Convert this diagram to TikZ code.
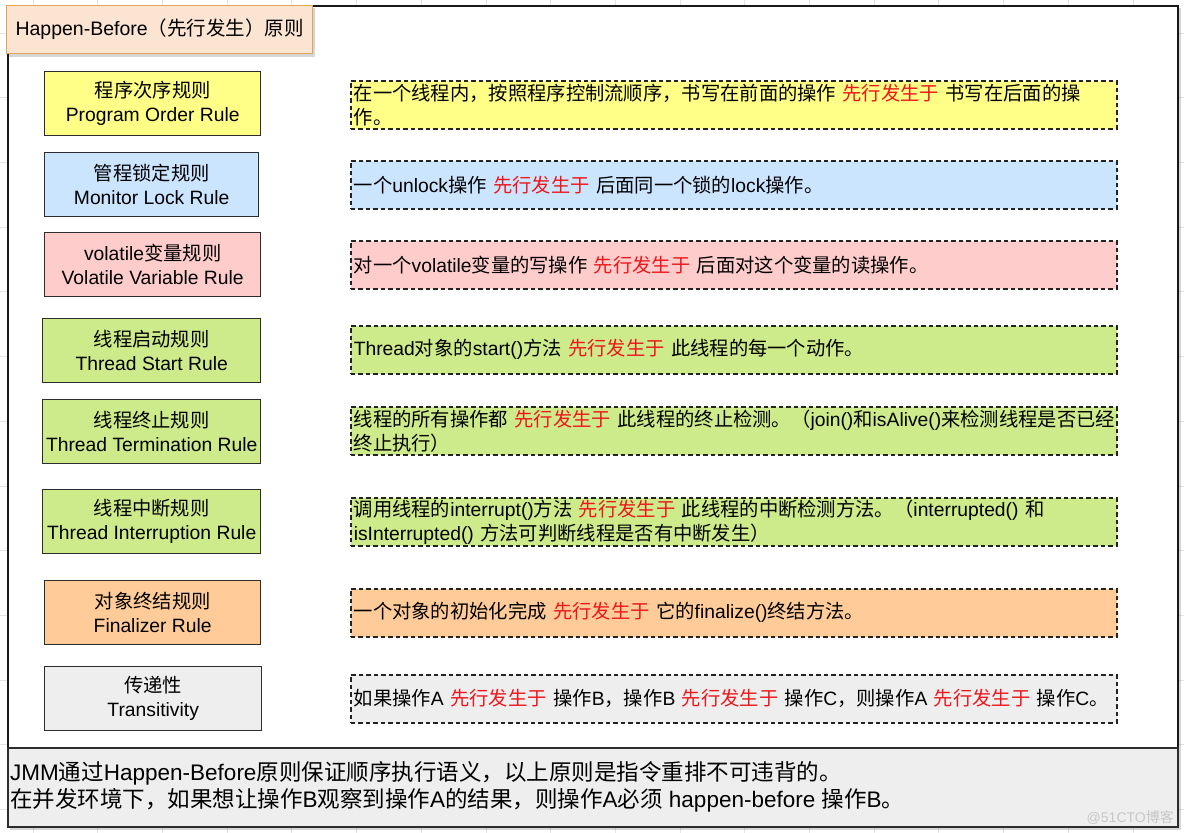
\documentclass[tikz,border=0pt]{standalone}
\usepackage{fontspec}
\setmainfont{Liberation Sans}
\newfontfamily\cjkf{Noto Sans CJK SC}
\newcommand\Z[1]{{\cjkf #1}}
\newcommand\RZ[1]{{\color{hbred}\cjkf #1}}
\definecolor{hbred}{RGB}{238,22,26}
\definecolor{cyellow}{RGB}{255,255,136}
\definecolor{cblue}{RGB}{204,229,255}
\definecolor{cpink}{RGB}{255,204,204}
\definecolor{cgreen}{RGB}{205,235,139}
\definecolor{corange}{RGB}{255,204,153}
\definecolor{cgray}{RGB}{238,238,238}
\definecolor{ctitle}{RGB}{252,228,210}
\definecolor{ctitleb}{RGB}{224,166,84}
\definecolor{cline}{RGB}{45,45,45}
\definecolor{cdash}{RGB}{35,35,35}
\definecolor{cgrid}{RGB}{228,228,228}
\begin{document}
\begin{tikzpicture}[x=1pt,y=-1pt,
  gridline/.style={draw=cgrid,line width=0.8pt},
  shadowbox/.style={fill=black,fill opacity=0.16,draw=none},
  lbox/.style={draw=cline,line width=1.4pt,anchor=north west,inner sep=0pt,
    minimum height=64pt,align=center,
    font=\fontsize{19.3}{24}\selectfont},
  rbox/.style={draw=cdash,line width=1.5pt,dash pattern=on 4.5pt off 3pt,
    anchor=north west,inner xsep=3pt,inner ysep=0pt,text width=760pt,
    minimum height=48pt,align=left,
    font=\fontsize{19.3}{24}\selectfont},
]
\useasboundingbox (0,0) rectangle (1184,833);
\fill[white] (0,0) rectangle (1184,833);
% background grid
\foreach \i in {0,...,18} {\draw[gridline] ({33+64.7*\i},0) -- ({33+64.7*\i},833);}
\foreach \i in {0,...,12} {\draw[gridline] (0,{33+64.7*\i}) -- (1184,{33+64.7*\i});}
% outer frame
\fill[shadowbox] (10,8) rectangle (1181,830);
\node[draw=black!90,line width=1.5pt,fill=white,anchor=north west,inner sep=0pt,
  minimum width=1170pt,minimum height=821pt] (frame) at (7,5) {};
% bottom summary box
\node[draw=cline,line width=1.5pt,fill=cgray,anchor=north west,inner sep=0pt,
  minimum width=1170pt,minimum height=79pt] (sumbox) at (7,747) {};
\node[anchor=west,align=left,inner sep=0pt,font=\fontsize{22.5}{27}\selectfont] (sumtext) at (10,787)
  {JMM\Z{通过}Happen-Before\Z{原则保证顺序执行语义，以上原则是指令重排不可违背的。}\\
   \Z{在并发环境下，如果想让操作}B\Z{观察到操作}A\Z{的结果，则操作}A\Z{必须} happen-before \Z{操作}B\Z{。}};
\node[anchor=east,inner sep=0pt,text=black!22,font=\fontsize{14}{16}\selectfont] (wm) at (1174,818) {@51CTO\Z{博客}};
% title
\fill[shadowbox] (9,8) rectangle (315,57);
\node[draw=ctitleb,line width=1.3pt,fill=ctitle,anchor=north west,inner sep=0pt,
  minimum width=306pt,minimum height=48pt,font=\fontsize{19.5}{24}\selectfont] (title) at (6,5)
  {Happen-Before\Z{（先行发生）原则}};
% left rule boxes
\node[lbox,fill=cyellow,minimum width=216pt] (l1) at (44,71) {\Z{程序次序规则}\\Program Order Rule};
\node[lbox,fill=cblue,minimum width=214pt] (l2) at (44,152) {\Z{管程锁定规则}\\Monitor Lock Rule};
\node[lbox,fill=cpink,minimum width=216pt] (l3) at (44,232) {volatile\Z{变量规则}\\Volatile Variable Rule};
\node[lbox,fill=cgreen,minimum width=218pt] (l4) at (42,318) {\Z{线程启动规则}\\Thread Start Rule};
\node[lbox,fill=cgreen,minimum width=218pt] (l5) at (42,399) {\Z{线程终止规则}\\Thread Termination Rule};
\node[lbox,fill=cgreen,minimum width=218pt] (l6) at (42,489) {\Z{线程中断规则}\\Thread Interruption Rule};
\node[lbox,fill=corange,minimum width=216pt] (l7) at (44,580) {\Z{对象终结规则}\\Finalizer Rule};
\node[lbox,fill=cgray,minimum width=217pt] (l8) at (44,666) {\Z{传递性}\\Transitivity};
% right description boxes
\node[rbox,fill=cyellow] (r1) at (350,80)
  {\mbox{\Z{在一个线程内，按照程序控制流顺序，书写在前面的操作} \RZ{先行发生于} \Z{书写在后面的操}}\\\mbox{\Z{作。}}};
\node[rbox,fill=cblue] (r2) at (350,160)
  {\mbox{\Z{一个}unlock\Z{操作} \RZ{先行发生于} \Z{后面同一个锁的}lock\Z{操作。}}};
\node[rbox,fill=cpink] (r3) at (350,240)
  {\mbox{\Z{对一个}volatile\Z{变量的写操作} \RZ{先行发生于} \Z{后面对这个变量的读操作。}}};
\node[rbox,fill=cgreen] (r4) at (350,325)
  {\mbox{Thread\Z{对象的}start()\Z{方法} \RZ{先行发生于} \Z{此线程的每一个动作。}}};
\node[rbox,fill=cgreen] (r5) at (350,406)
  {\mbox{\Z{线程的所有操作都} \RZ{先行发生于} \Z{此线程的终止检测。（}join()\Z{和}isAlive()\Z{来检测线程是否已经}}\\\mbox{\Z{终止执行）}}};
\node[rbox,fill=cgreen] (r6) at (350,497)
  {\mbox{\Z{调用线程的}interrupt()\Z{方法} \RZ{先行发生于} \Z{此线程的中断检测方法。（}interrupted() \Z{和}}\\\mbox{isInterrupted() \Z{方法可判断线程是否有中断发生）}}};
\node[rbox,fill=corange] (r7) at (350,588)
  {\mbox{\Z{一个对象的初始化完成} \RZ{先行发生于} \Z{它的}finalize()\Z{终结方法。}}};
\node[rbox,fill=cgray] (r8) at (350,674)
  {\mbox{\Z{如果操作}A \RZ{先行发生于} \Z{操作}B\Z{，操作}B \RZ{先行发生于} \Z{操作}C\Z{，则操作}A \RZ{先行发生于} \Z{操作}C\Z{。}}};
\end{tikzpicture}
\end{document}
